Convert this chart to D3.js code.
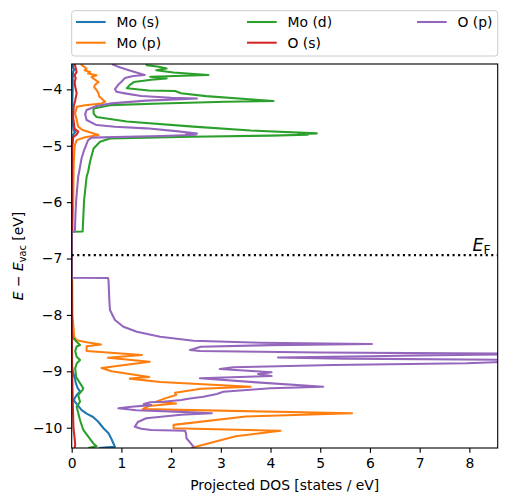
<!DOCTYPE html>
<html><head><meta charset="utf-8">
<script src="https://cdn.jsdelivr.net/npm/d3@7"></script>
<style>
body{margin:0;background:#fff}
svg{display:block}
text{font-family:"DejaVu Sans",sans-serif;fill:#000}
</style>
</head><body>
<svg id="chart" width="507" height="502"></svg>
<script>
// ---- data: [energy (eV), projected DOS (states/eV)] ----
const seriesNames = ["Mo (s)", "Mo (p)", "Mo (d)", "O (s)", "O (p)"];
const seriesColors = ["#1f77b4", "#ff7f0e", "#2ca02c", "#d62728", "#9467bd"];

const moS = [
[-3.55,0.02],[-3.62,0.03],[-3.65,0.05],[-3.69,0.03],[-3.80,0.02],[-4.00,0.02],[-4.30,0.01],[-4.60,0.02],[-4.73,0.04],[-4.76,0.07],[-4.80,0.03],[-5.00,0.01],[-6.50,0.005],[-6.53,0],
[-7.34,0],[-8.90,0.005],[-9.00,0.02],[-9.14,0.07],[-9.20,0.08],[-9.30,0.12],[-9.36,0.17],[-9.42,0.10],[-9.51,0.04],[-9.60,0.12],[-9.69,0.20],[-9.75,0.30],[-9.81,0.43],[-9.89,0.53],[-10.01,0.64],[-10.10,0.74],[-10.20,0.80],[-10.28,0.84],[-10.34,0.87],[-10.35,0.65],[-10.36,0.55]
];

const moP = [
[-3.55,0.19],[-3.57,0.20],[-3.63,0.30],[-3.66,0.26],[-3.69,0.37],[-3.72,0.33],[-3.75,0.50],[-3.78,0.40],[-3.81,0.44],[-3.87,0.54],[-3.92,0.47],[-3.96,0.45],[-4.01,0.50],[-4.07,0.54],[-4.12,0.55],[-4.16,0.60],[-4.22,0.67],[-4.25,0.60],[-4.28,0.27],[-4.31,0.10],[-4.43,0.07],[-4.54,0.10],[-4.66,0.13],[-4.72,0.22],[-4.75,0.33],[-4.81,0.54],[-4.85,0.27],[-4.90,0.10],[-5.00,0.06],[-5.30,0.04],[-6.00,0.03],[-6.50,0.015],[-6.53,0],
[-7.34,0],[-7.40,0.01],[-8.00,0.015],[-8.39,0.05],[-8.45,0.10],[-8.49,0.33],[-8.525,0.59],[-8.555,0.30],[-8.64,0.30],[-8.71,1.41],[-8.76,0.73],[-8.83,1.57],[-8.94,0.60],[-9.00,0.80],[-9.10,1.56],[-9.13,1.17],[-9.19,1.78],[-9.273,3.60],[-9.31,2.60],[-9.38,2.08],[-9.42,2.10],[-9.48,1.88],[-9.54,1.70],[-9.57,2.10],[-9.615,1.55],[-9.67,1.43],[-9.745,5.64],[-9.80,3.50],[-9.95,2.05],[-10.01,2.05],[-10.053,4.20],[-10.15,3.30],[-10.36,2.40]
];

const moD = [
[-3.55,1.50],[-3.57,1.51],[-3.60,1.75],[-3.63,1.91],[-3.66,1.70],[-3.70,2.05],[-3.746,2.75],[-3.777,1.58],[-3.805,1.91],[-3.83,1.60],[-3.87,1.25],[-3.92,1.17],[-3.98,1.11],[-4.02,1.55],[-4.03,2.08],[-4.07,2.20],[-4.12,2.70],[-4.17,3.50],[-4.207,4.06],[-4.22,3.10],[-4.25,1.80],[-4.28,0.77],[-4.34,0.44],[-4.43,0.44],[-4.49,0.50],[-4.57,1.11],[-4.66,2.45],[-4.73,3.60],[-4.78,4.93],[-4.795,4.55],[-4.805,4.75],[-4.82,4.00],[-4.84,2.40],[-4.87,0.77],[-4.93,0.57],[-5.05,0.44],[-5.28,0.37],[-5.46,0.33],[-5.55,0.30],[-5.96,0.25],[-6.23,0.235],[-6.52,0.22],[-6.525,0.02],[-6.53,0],
[-7.34,0],[-8.30,0],[-8.40,0.02],[-8.475,0.10],[-8.534,0.167],[-8.56,0.10],[-8.64,0.07],[-8.74,0.10],[-8.80,0.167],[-8.86,0.10],[-8.95,0.07],[-9.10,0.09],[-9.21,0.167],[-9.30,0.233],[-9.33,0.22],[-9.42,0.13],[-9.54,0.167],[-9.63,0.10],[-9.745,0.133],[-9.864,0.167],[-10.04,0.233],[-10.16,0.334],[-10.28,0.435],[-10.33,0.50],[-10.36,0.33]
];

const oS = [
[-3.55,0.06],[-3.62,0.08],[-3.69,0.10],[-3.75,0.06],[-3.80,0.08],[-3.87,0.06],[-3.95,0.07],[-4.07,0.10],[-4.20,0.07],[-4.30,0.04],[-4.50,0.03],[-4.70,0.06],[-4.75,0.13],[-4.80,0.10],[-4.85,0.03],[-5.00,0.01],[-6.50,0.005],[-6.53,0],
[-7.34,0],[-8.50,0.005],[-9.00,0.01],[-9.50,0.02],[-10.00,0.035],[-10.20,0.06],[-10.30,0.07],[-10.36,0.06]
];

const oP = [
[-3.55,0.81],[-3.605,0.95],[-3.66,1.15],[-3.746,1.47],[-3.764,1.24],[-3.80,1.07],[-3.865,1.00],[-3.924,0.93],[-3.995,0.87],[-4.043,0.90],[-4.071,1.07],[-4.119,1.40],[-4.150,2.00],[-4.163,2.52],[-4.175,2.20],[-4.20,1.50],[-4.248,0.80],[-4.296,0.50],[-4.367,0.30],[-4.438,0.27],[-4.544,0.30],[-4.633,0.50],[-4.663,0.87],[-4.691,1.50],[-4.74,2.10],[-4.784,2.52],[-4.797,2.30],[-4.806,2.50],[-4.828,1.80],[-4.855,0.40],[-4.90,0.33],[-4.988,0.29],[-5.076,0.25],[-5.218,0.20],[-5.461,0.15],[-5.55,0.13],[-5.963,0.09],[-6.229,0.075],[-6.495,0.065],[-6.52,0.06],[-6.53,0],
[-7.34,0],[-7.345,0.73],[-7.381,0.74],[-7.736,0.757],[-7.914,0.77],[-8.091,0.87],[-8.209,1.04],[-8.298,1.31],[-8.387,1.78],[-8.457,2.45],[-8.493,3.79],[-8.516,6.04],[-8.535,4.00],[-8.564,2.60],[-8.605,2.45],[-8.622,2.38],[-8.640,2.58],[-8.665,5.00],[-8.69,9.30],[-8.72,7.00],[-8.755,4.15],[-8.775,5.50],[-8.80,9.30],[-8.82,9.00],[-8.84,8.50],[-8.858,7.95],[-8.888,5.26],[-8.929,3.25],[-8.959,2.98],[-9.018,4.02],[-9.048,3.75],[-9.083,4.02],[-9.124,2.58],[-9.20,3.80],[-9.273,5.06],[-9.30,4.00],[-9.362,3.05],[-9.402,2.92],[-9.45,2.65],[-9.482,2.38],[-9.509,2.20],[-9.539,1.84],[-9.55,1.58],[-9.58,1.45],[-9.60,1.60],[-9.63,1.20],[-9.656,0.94],[-9.69,1.30],[-9.72,2.20],[-9.745,2.82],[-9.77,2.20],[-9.833,1.50],[-9.90,1.33],[-9.982,1.27],[-10.02,1.40],[-10.041,1.60],[-10.053,2.28],[-10.10,2.30],[-10.188,2.31],[-10.25,2.37],[-10.337,2.45],[-10.36,2.45]
];

const seriesData = [moS, moP, moD, oS, oP];
const xTicks = [0, 1, 2, 3, 4, 5, 6, 7, 8];
const yTicks = [-10, -9, -8, -7, -6, -5, -4];
const xDomain = [0, 8.57];
const yDomain = [-10.36, -3.55];
const fermiLevel = -6.94;

// ---- layout ----
const W = 507, H = 502;
const m = {left: 71.7, right: 9.3, top: 64, bottom: 54};
const pw = W - m.left - m.right, ph = H - m.top - m.bottom;
const FS = 13.9, LW = 2.08;

const svg = d3.select("#chart");
const x = d3.scaleLinear().domain(xDomain).range([0, pw]);
const y = d3.scaleLinear().domain(yDomain).range([ph, 0]);

svg.append("defs").append("clipPath").attr("id", "clip")
  .append("rect").attr("width", pw).attr("height", ph);

const g = svg.append("g").attr("transform", `translate(${m.left},${m.top})`);

const line = d3.line().x(d => x(d[1])).y(d => y(d[0]));
const plot = g.append("g").attr("clip-path", "url(#clip)");
seriesData.forEach((s, i) => {
  plot.append("path").datum(s).attr("d", line)
    .attr("fill", "none").attr("stroke", seriesColors[i])
    .attr("stroke-width", LW).attr("stroke-linejoin", "round");
});

// Fermi level
plot.append("line")
  .attr("x1", 0).attr("x2", pw)
  .attr("y1", y(fermiLevel)).attr("y2", y(fermiLevel))
  .attr("stroke", "#000").attr("stroke-width", LW)
  .attr("stroke-dasharray", "2.08,3.44");

const efText = g.append("text")
  .attr("x", x(8.43)).attr("y", y(fermiLevel) - 4.5)
  .attr("text-anchor", "end").attr("font-size", 17.5);
efText.append("tspan").attr("font-style", "italic").text("E");
efText.append("tspan").attr("font-size", 12.5).attr("dy", 3).text("F");

// axes
const fmt = d => d < 0 ? "\u2212" + Math.abs(d) : String(d);
const xa = g.append("g").attr("transform", `translate(0,${ph})`)
  .call(d3.axisBottom(x).tickValues(xTicks).tickFormat(fmt).tickSize(4.86).tickPadding(5.2));
const ya = g.append("g")
  .call(d3.axisLeft(y).tickValues(yTicks).tickFormat(fmt).tickSize(4.86).tickPadding(4.6));
[xa, ya].forEach(a => {
  a.select(".domain").remove();
  a.selectAll("line").attr("stroke", "#000").attr("stroke-width", 1.11);
  a.selectAll("text").attr("font-size", FS).attr("font-family", "DejaVu Sans").attr("fill", "#000");
});

// frame
g.append("rect").attr("width", pw).attr("height", ph)
  .attr("fill", "none").attr("stroke", "#000").attr("stroke-width", 1.11);

// axis labels
g.append("text").attr("x", pw / 2).attr("y", ph + 42)
  .attr("text-anchor", "middle").attr("font-size", FS)
  .text("Projected DOS [states / eV]");

const yl = svg.append("text")
  .attr("transform", `translate(23,${m.top + ph / 2}) rotate(-90)`)
  .attr("text-anchor", "middle").attr("font-size", FS);
yl.append("tspan").attr("font-style", "italic").text("E");
yl.append("tspan").text(" \u2212 ");
yl.append("tspan").attr("font-style", "italic").text("E");
yl.append("tspan").attr("font-size", 9.7).attr("dy", 2.6).text("vac");
yl.append("tspan").attr("dy", -2.6).text(" [eV]");

// legend
const leg = svg.append("g");
leg.append("rect").attr("x", 71.7).attr("y", 10.7).attr("width", 426).attr("height", 45.3)
  .attr("rx", 2.8).attr("fill", "#fff").attr("fill-opacity", 0.8)
  .attr("stroke", "#cccccc").attr("stroke-width", 1);
const colX = [76, 247, 417];
const rowY = [22, 42.7];
seriesNames.forEach((name, i) => {
  const c = Math.floor(i / 2), r = i % 2;
  leg.append("line").attr("x1", colX[c]).attr("x2", colX[c] + 29.7)
    .attr("y1", rowY[r]).attr("y2", rowY[r])
    .attr("stroke", seriesColors[i]).attr("stroke-width", LW);
  leg.append("text").attr("x", colX[c] + 40.5).attr("y", rowY[r] + 5.2)
    .attr("font-size", FS).text(name);
});
</script>
</body></html>
